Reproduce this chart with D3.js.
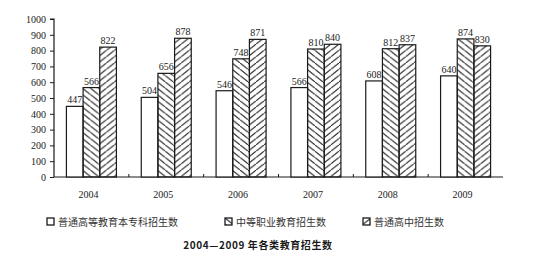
<!DOCTYPE html>
<html>
<head>
<meta charset="utf-8">
<script src="https://cdn.jsdelivr.net/npm/d3@7"></script>
<style>
  body { margin: 0; background: #fff; }
  svg { display: block; }
</style>
</head>
<body>
<svg id="chart"></svg>
<script>
const years = ["2004", "2005", "2006", "2007", "2008", "2009"];
const seriesNames = ["普通高等教育本专科招生数", "中等职业教育招生数", "普通高中招生数"];
const higherEd = [447, 504, 546, 566, 608, 640];
const vocational = [566, 656, 748, 810, 812, 874];
const highSchool = [822, 878, 871, 840, 837, 830];
const yTicks = [0, 100, 200, 300, 400, 500, 600, 700, 800, 900, 1000];
const chartTitle = "2004—2009 年各类教育招生数";

const W = 533, H = 257;
const ink = "#1a1a1a";
const serif = "'Liberation Serif', 'DejaVu Serif', serif";
const cjk = "'Noto Sans CJK SC', sans-serif";

const svg = d3.select("#chart").attr("width", W).attr("height", H);

// hatching patterns
const defs = svg.append("defs");
defs.append("pattern")
    .attr("id", "back")
    .attr("patternUnits", "userSpaceOnUse")
    .attr("width", 8).attr("height", 6.3)
    .append("path")
    .attr("d", "M-8,-6.3 L16,12.6")
    .attr("stroke", ink).attr("stroke-width", 1.1);
defs.append("pattern")
    .attr("id", "fwd")
    .attr("patternUnits", "userSpaceOnUse")
    .attr("width", 8).attr("height", 6.3)
    .append("path")
    .attr("d", "M-8,12.6 L16,-6.3")
    .attr("stroke", ink).attr("stroke-width", 1.1);

const fills = ["#fff", "url(#back)", "url(#fwd)"];

const x0 = d3.scaleBand().domain(years).range([54, 503]).padding(0);
const x1 = d3.scaleBand().domain([0, 1, 2]).range([0, 50]).padding(0);
const y = d3.scaleLinear().domain([0, 1000]).range([177, 19]);

const data = years.map((yr, i) => ({
    year: yr,
    values: [higherEd[i], vocational[i], highSchool[i]]
}));

// y axis
const yAxis = d3.axisLeft(y).tickValues(yTicks).tickSize(4).tickFormat(d3.format("d"));
const yG = svg.append("g").attr("transform", "translate(54,0)").call(yAxis);
yG.select(".domain").attr("stroke", ink).attr("stroke-width", 1.2).attr("d", "M-4,19H0V177");
yG.selectAll(".tick line").attr("stroke", ink);
yG.selectAll(".tick text")
    .attr("x", -8)
    .attr("fill", ink)
    .style("font-family", serif)
    .style("font-size", "10px");

// x axis baseline with small upward ticks between groups
svg.append("line")
    .attr("x1", 54).attr("x2", 503)
    .attr("y1", y(0)).attr("y2", y(0))
    .attr("stroke", ink).attr("stroke-width", 1.2);
svg.selectAll(".sep")
    .data(years.slice(1))
    .enter().append("line")
    .attr("x1", d => x0(d)).attr("x2", d => x0(d))
    .attr("y1", y(0)).attr("y2", y(0) - 3)
    .attr("stroke", ink);

// bars
const groups = svg.selectAll(".grp")
    .data(data)
    .enter().append("g")
    .attr("transform", d => `translate(${x0(d.year) + (x0.bandwidth() - 50) / 2},0)`);

groups.selectAll("rect")
    .data(d => d.values)
    .enter().append("rect")
    .attr("x", (d, i) => x1(i))
    .attr("y", d => y(d))
    .attr("width", x1.bandwidth())
    .attr("height", d => y(0) - y(d))
    .attr("fill", (d, i) => fills[i])
    .attr("stroke", ink)
    .attr("stroke-width", 1.2);

groups.selectAll("text")
    .data(d => d.values)
    .enter().append("text")
    .attr("x", (d, i) => x1(i) + x1.bandwidth() / 2)
    .attr("y", d => y(d) - 3)
    .attr("text-anchor", "middle")
    .attr("fill", ink)
    .style("font-family", serif)
    .style("font-size", "10px")
    .text(d => d);

// year labels
svg.selectAll(".yr")
    .data(years)
    .enter().append("text")
    .attr("x", d => x0(d) + x0.bandwidth() / 2 - 3)
    .attr("y", 198)
    .attr("text-anchor", "middle")
    .attr("fill", ink)
    .style("font-family", serif)
    .style("font-size", "10px")
    .text(d => d);

// legend
const legendX = [47, 225, 363];
const legend = svg.selectAll(".lg")
    .data(seriesNames)
    .enter().append("g")
    .attr("transform", (d, i) => `translate(${legendX[i]},218)`);
legend.append("rect")
    .attr("width", 7).attr("height", 7)
    .attr("fill", (d, i) => fills[i])
    .attr("stroke", ink).attr("stroke-width", 1.3);
legend.append("text")
    .attr("x", 11).attr("y", 7.5)
    .attr("fill", "#333")
    .style("font-family", cjk)
    .style("font-size", "10px")
    .text(d => d);

// title
svg.append("text")
    .attr("x", 258).attr("y", 249)
    .attr("text-anchor", "middle")
    .attr("fill", ink)
    .style("font-family", cjk)
    .style("font-size", "10px")
    .style("font-weight", "bold")
    .style("letter-spacing", "0.6px")
    .text(chartTitle);
</script>
</body>
</html>
